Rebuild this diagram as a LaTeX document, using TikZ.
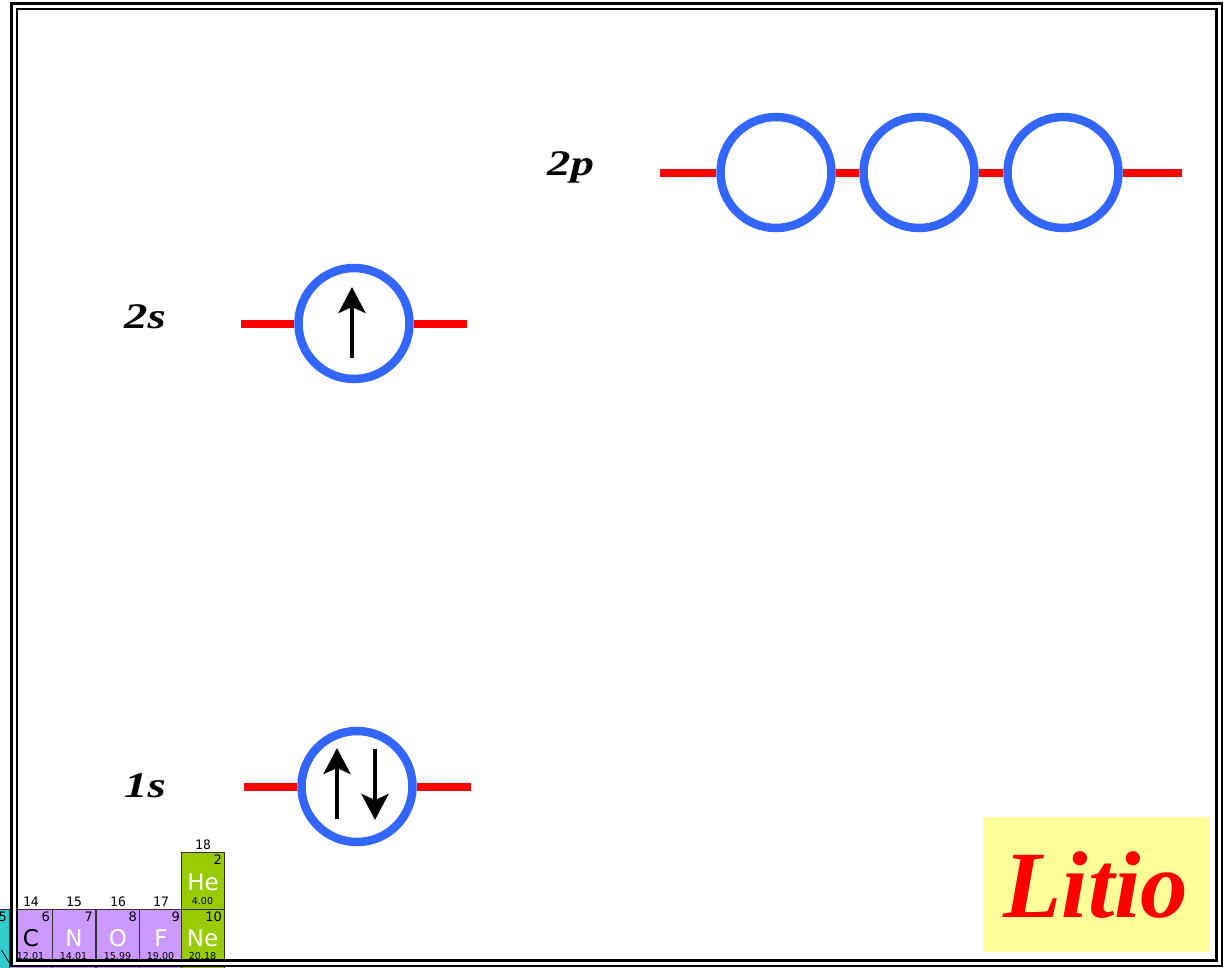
\documentclass[tikz,border=0pt]{standalone}
\usepackage{fontspec}
\setmainfont{Liberation Serif}
\newfontfamily\ptabfont{DejaVu Sans}
\newfontfamily\pgrpfont{DejaVu Sans Mono}
\usetikzlibrary{arrows.meta}
\definecolor{orbblue}{HTML}{3366FF}
\definecolor{namebg}{HTML}{FFFF99}
\definecolor{nonmetal}{HTML}{CC99FF}
\definecolor{noble}{HTML}{99CC00}
\definecolor{metalloid}{HTML}{33CCCC}

\begin{document}
\begin{tikzpicture}[x=1pt,y=-1pt,
  orbital/.style={circle,draw=orbblue,fill=white,line width=8.5pt,minimum size=111pt,inner sep=0pt},
  level/.style={red,line width=8pt},
  spin/.style={line width=4pt,-{Stealth[length=26pt,width=27pt,inset=6pt]}},
  shell/.style={font=\bfseries\itshape\fontsize{36}{36}\selectfont,inner sep=0pt,anchor=base west},
  namebox/.style={fill=namebg,text=red,minimum width=226pt,minimum height=135pt,inner sep=0pt,
    font=\bfseries\itshape\fontsize{95}{95}\selectfont},
  cell/.style={draw=black!80,line width=1pt,minimum width=43pt,minimum height=57pt,inner sep=0pt,anchor=north west},
  znum/.style={anchor=north east,inner sep=0pt,font=\ptabfont\fontsize{13}{13}\selectfont},
  esym/.style={inner sep=0pt,font=\ptabfont\fontsize{23}{23}\selectfont},
  emass/.style={inner sep=0pt,font=\ptabfont\fontsize{9.5}{9.5}\selectfont},
  grp/.style={inner sep=0pt,font=\pgrpfont\fontsize{13}{13}\selectfont}]
\useasboundingbox (0,0) rectangle (1229,967);
\clip (0,0) rectangle (1229,967);

% periodic table corner
\node[cell,fill=metalloid,minimum height=62pt] (c5) at (-34,909) {};
\node[znum] at ([xshift=-3pt,yshift=-3pt]c5.north east) {5};
\draw[line width=0.8pt] (1.5,950) -- (10,964);
\foreach \x/\sym/\num/\mass/\grpn/\ink in {9/C/6/12.01/14/black,52/N/7/14.01/15/white,
    96/O/8/15.99/16/white,139/F/9/19.00/17/white}{
  \node[cell,fill=nonmetal,minimum height=62pt] (c\num) at (\x,909) {};
  \node[grp] at ([yshift=7pt]c\num.north) {\grpn};
  \node[znum] at ([xshift=-3pt,yshift=-3pt]c\num.north east) {\num};
  \node[esym,text=\ink] at ([yshift=2.5pt]c\num.center) {\sym};
  \node[emass] at (\x+21.5,956) {\mass};
}
\node[cell,fill=noble] (c2) at (181,852) {};
\node[grp] at ([yshift=7pt]c2.north) {18};
\node[znum] at ([xshift=-3pt,yshift=-3pt]c2.north east) {2};
\node[esym,text=white] at ([yshift=-1pt]c2.center) {He};
\node[emass] at (202.5,901) {4.00};
\node[cell,fill=noble,minimum height=62pt] (c10) at (181,909) {};
\node[znum] at ([xshift=-3pt,yshift=-3pt]c10.north east) {10};
\node[esym,text=white] at (202.5,938) {Ne};
\node[emass] at (202.5,956) {20.18};

% double frame
\draw[line width=7.5pt] (14,6) rectangle (1219,963);
\draw[white,line width=3pt] (14,6) rectangle (1219,963);

% 2p
\node[shell] (l2p) at (547,175) {\scalebox{1.3}[1]{2p}};
\coordinate (p0) at (660,172.5);
\node[orbital] (p1) at (776,172.5) {};
\node[orbital] (p2) at (919,172.5) {};
\node[orbital] (p3) at (1063,172.5) {};
\coordinate (p4) at (1182,172.5);
\draw[level] (p0) -- (p1);
\draw[level] (p1) -- (p2);
\draw[level] (p2) -- (p3);
\draw[level] (p3) -- (p4);

% 2s
\node[shell] (l2s) at (124,328) {\scalebox{1.3}[1]{2s}};
\coordinate (s0) at (241,323.5);
\node[orbital] (s2) at (354,323.5) {};
\coordinate (s1) at (467,323.5);
\draw[level] (s0) -- (s2);
\draw[level] (s1) -- (s2);
\draw[spin] (352,358) -- (352,287);

% 1s
\node[shell] (l1s) at (124,797) {\scalebox{1.3}[1]{1s}};
\coordinate (t0) at (244,786.5);
\node[orbital] (s1s) at (357,786.5) {};
\coordinate (t1) at (471,786.5);
\draw[level] (t0) -- (s1s);
\draw[level] (t1) -- (s1s);
\draw[spin] (337,819) -- (337,748);
\draw[spin] (375,749) -- (375,820);

\node[namebox] (litio) at (1096,884.5) {Litio};
\end{tikzpicture}
\end{document}
